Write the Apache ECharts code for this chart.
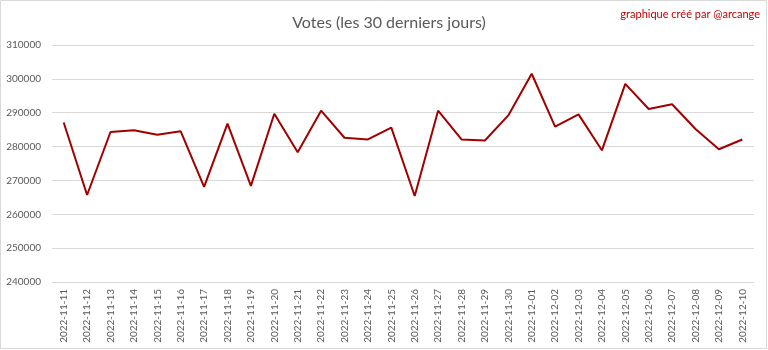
<!DOCTYPE html>
<html>
<head>
<meta charset="utf-8">
<script src="https://cdn.jsdelivr.net/npm/echarts@6/dist/echarts.min.js"></script>
<style>html,body{margin:0;padding:0;background:#fff}#c{width:768px;height:350px}</style>
</head>
<body>
<div id="c"></div>
<script>
const categories = ["2022-11-11","2022-11-12","2022-11-13","2022-11-14","2022-11-15","2022-11-16","2022-11-17","2022-11-18","2022-11-19","2022-11-20","2022-11-21","2022-11-22","2022-11-23","2022-11-24","2022-11-25","2022-11-26","2022-11-27","2022-11-28","2022-11-29","2022-11-30","2022-12-01","2022-12-02","2022-12-03","2022-12-04","2022-12-05","2022-12-06","2022-12-07","2022-12-08","2022-12-09","2022-12-10"];
const votes = [287100,265700,284300,284800,283500,284500,268100,286800,268400,289700,278300,290600,282600,282100,285600,265400,290600,282100,281800,289200,301500,285900,289500,278900,298500,291100,292500,285200,279200,282100];
const titleText = "Votes (les 30 derniers jours)";
const creditText = "graphique créé par @arcange";

const chart = echarts.init(document.getElementById('c'), null, {renderer:'canvas'});
chart.setOption({
  backgroundColor: '#ffffff',
  animation: false,
  title: {
    text: titleText,
    left: 384, top: 10, textAlign: 'center',
    textStyle: {fontFamily: 'Lato', fontSize: 16, fontWeight: 'normal', color: '#595959'}
  },
  graphic: [
    {type:'rect', shape:{x:0.5,y:0.5,width:766,height:348}, style:{fill:'none', stroke:'#d9d9d9', lineWidth:1}},
    {type:'text', right: 8, top: 9, style:{text: creditText, fill:'#c00000', font:'11px Lato'}}
  ],
  grid: {left: 52, right: 14, top: 45, bottom: 68},
  xAxis: {
    type: 'category',
    data: categories,
    boundaryGap: true,
    axisLine: {lineStyle: {color: '#d9d9d9', width: 1}},
    axisTick: {show: false},
    axisLabel: {rotate: 90, interval: 0, color: '#595959', fontSize: 10, fontFamily: 'Lato', margin: 7}
  },
  yAxis: {
    type: 'value',
    min: 240000, max: 310000, interval: 10000,
    axisLine: {show: false},
    axisTick: {show: false},
    splitLine: {lineStyle: {color: '#d9d9d9', width: 1}},
    axisLabel: {color: '#595959', fontSize: 10, fontFamily: 'Lato', margin: 11, formatter: v => String(v)}
  },
  series: [{
    type: 'line',
    data: votes,
    symbol: 'none',
    lineStyle: {color: '#a00000', width: 2},
    itemStyle: {color: '#a00000'}
  }]
});
</script>
</body>
</html>
